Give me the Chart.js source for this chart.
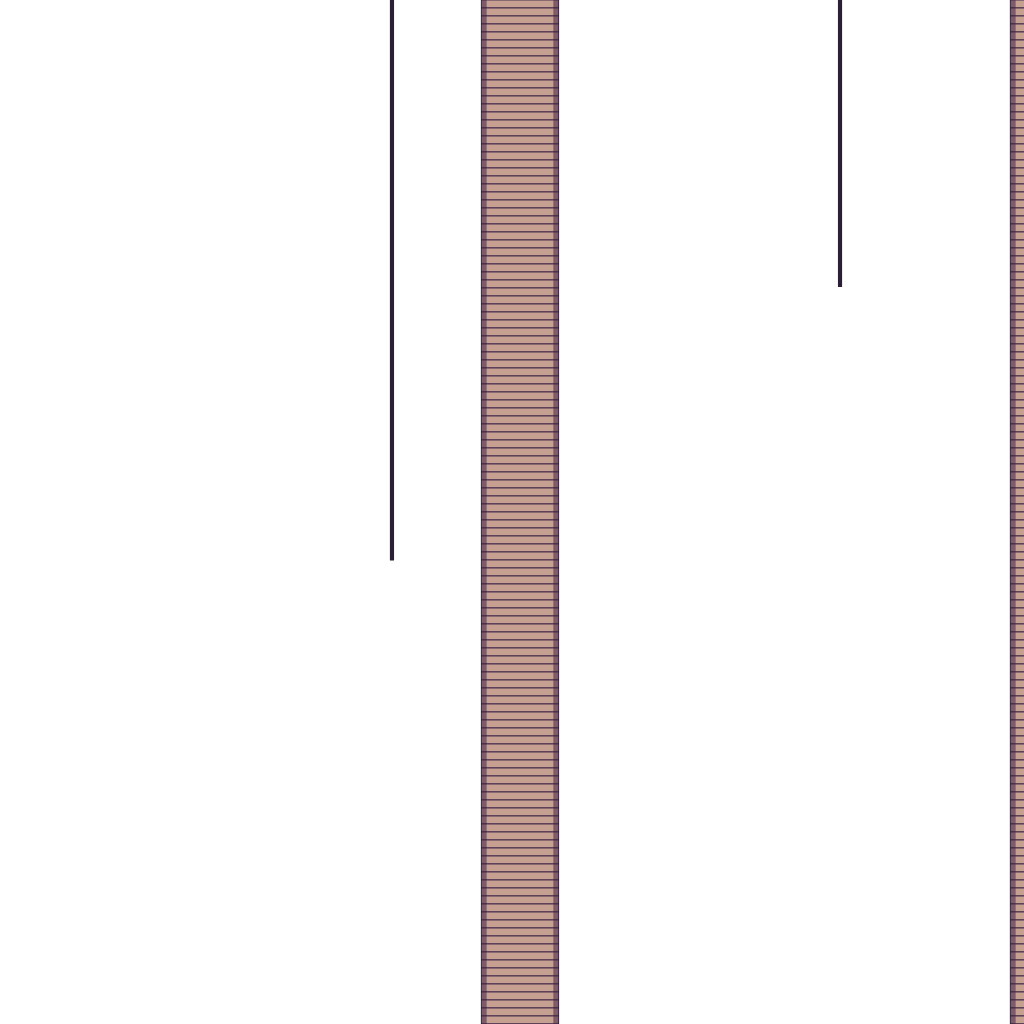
<!DOCTYPE html>
<html>
<head>
<meta charset="utf-8">
<script src="https://cdn.jsdelivr.net/npm/chart.js@4"></script>
<style>
html,body{margin:0;padding:0;background:#fff;}
#wrap{width:1024px;height:1024px;position:relative;}
</style>
</head>
<body>
<div id="wrap"><canvas id="c"></canvas></div>
<script>
// ---- data ----
const barPositions = [5.0, 10.0];          // x values of the tall bars
const barRanges = [[-10, 110], [-10, 110]]; // floating ranges (extend past view)
const linePositions = [3.79, 8.025];        // x values of the thin whiskers
const lineRanges = [[45.3, 110], [72.0, 110]];
const xView = [0.085, 9.764];
const yView = [0, 100];

const ctxMain = document.getElementById('c').getContext('2d');
function stripePattern(base, line, line2) {
  const off = document.createElement('canvas');
  off.width = 8; off.height = 8;
  const g = off.getContext('2d');
  g.fillStyle = base; g.fillRect(0, 0, 8, 8);
  g.fillStyle = line; g.fillRect(0, 7, 8, 1);
  g.fillStyle = line2; g.fillRect(0, 0, 8, 1);
  return ctxMain.createPattern(off, 'repeat');
}
const fillPat = stripePattern('#c6a191', '#5f4259', '#8a6a72');
const edgePat = stripePattern('#7e5a6a', '#4a3248', '#614459');

const barPts = barPositions.map((x, i) => ({x: x, y: barRanges[i]}));
const linePts = linePositions.map((x, i) => ({x: x, y: lineRanges[i]}));

new Chart(ctxMain, {
  type: 'bar',
  data: {
    datasets: [
      {
        data: linePts,
        backgroundColor: '#2b1f36',
        barThickness: 3.5,
        grouped: false,
        order: 3
      },
      {
        data: barPts,
        backgroundColor: edgePat,
        borderColor: '#2a1c30',
        borderWidth: {left: 1, right: 1, top: 0, bottom: 0},
        borderSkipped: false,
        barThickness: 78,
        grouped: false,
        order: 2
      },
      {
        data: barPts,
        backgroundColor: fillPat,
        barThickness: 66,
        grouped: false,
        order: 1
      }
    ]
  },
  options: {
    responsive: true,
    maintainAspectRatio: false,
    animation: false,
    layout: {padding: 0},
    plugins: {legend: {display: false}, tooltip: {enabled: false}},
    scales: {
      x: {type: 'linear', min: xView[0], max: xView[1], display: false, offset: false},
      y: {min: yView[0], max: yView[1], display: false}
    }
  }
});
</script>
</body>
</html>
